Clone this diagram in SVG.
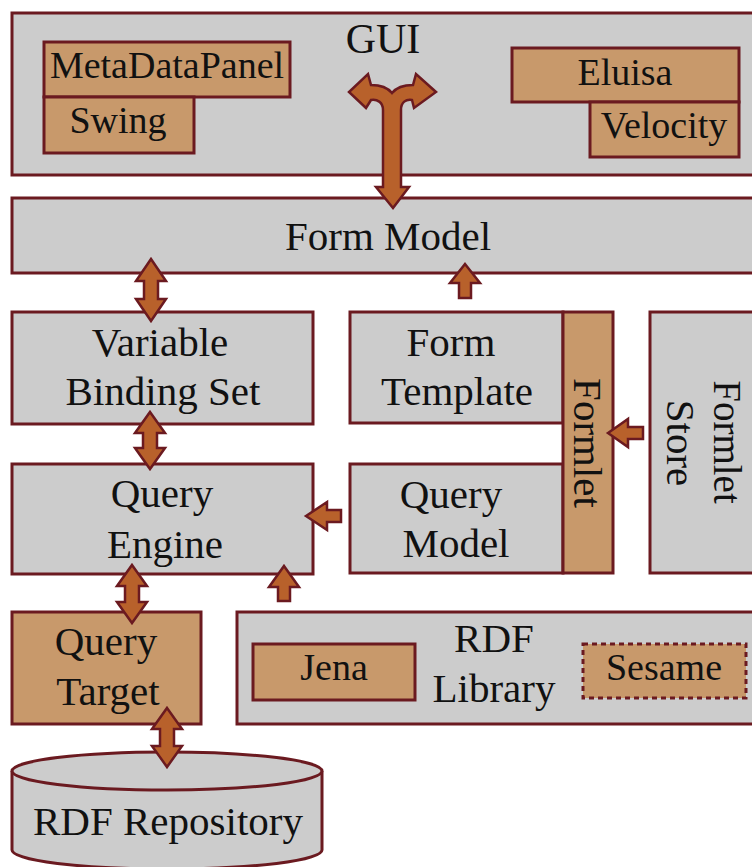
<svg xmlns="http://www.w3.org/2000/svg" width="752" height="867" viewBox="0 0 752 867">
<defs>
<style>
.box{fill:#cccccc;stroke:#6b1a20;stroke-width:3}
.tan{fill:#c8996b;stroke:#6b1a20;stroke-width:3}
.dash{fill:#c8996b;stroke:#6b1a20;stroke-width:3;stroke-dasharray:5,4}
.arr{fill:#b8612b;stroke:#6b1a20;stroke-width:2.5;stroke-linejoin:miter}
text{font-family:"Liberation Serif","Times New Roman",serif;font-size:41px;fill:#111;text-anchor:middle}
.sm{font-size:38px}
</style>
</defs>
<rect width="752" height="867" fill="#ffffff"/>
<g id="gui">
<rect class="box" x="12" y="13" width="760" height="162"/>
<text x="383" y="53" style="font-size:42px">GUI</text>
</g>
<g id="metadatapanel">
<rect class="tan" x="44" y="42" width="246" height="55"/>
<text class="sm" x="167" y="78">MetaDataPanel</text>
</g>
<g id="swing">
<rect class="tan" x="44" y="97" width="150" height="56"/>
<text class="sm" x="118" y="133">Swing</text>
</g>
<g id="eluisa">
<rect class="tan" x="512" y="48" width="227" height="54"/>
<text class="sm" x="625" y="85">Eluisa</text>
</g>
<g id="velocity">
<rect class="tan" x="590" y="102" width="149" height="55"/>
<text class="sm" x="664" y="138">Velocity</text>
</g>
<g id="form-model">
<rect class="box" x="12" y="198" width="760" height="75"/>
<text x="388" y="250">Form Model</text>
</g>
<g id="variable-binding-set">
<rect class="box" x="12" y="312" width="301" height="112"/>
<text x="160" y="356">Variable</text>
<text x="163" y="405">Binding Set</text>
</g>
<g id="form-template">
<rect class="box" x="350" y="312" width="213" height="111"/>
<text x="451" y="356">Form</text>
<text x="457" y="405">Template</text>
</g>
<g id="query-model">
<rect class="box" x="350" y="464" width="213" height="109"/>
<text x="451" y="508">Query</text>
<text x="456" y="557">Model</text>
</g>
<g id="formlet">
<rect class="tan" x="563" y="312" width="50" height="261"/>
<text transform="translate(574,443) rotate(90)">Formlet</text>
</g>
<g id="formlet-store">
<rect class="box" x="650" y="312" width="120" height="261"/>
<text transform="translate(714,442) rotate(90)" style="font-size:39px">Formlet</text>
<text transform="translate(667,443) rotate(90)">Store</text>
</g>
<g id="query-engine">
<rect class="box" x="12" y="464" width="301" height="110"/>
<text x="162" y="507">Query</text>
<text x="165" y="558">Engine</text>
</g>
<g id="query-target">
<rect class="tan" x="12" y="612" width="189" height="112"/>
<text x="106" y="655">Query</text>
<text x="108" y="705">Target</text>
</g>
<g id="rdf-library">
<rect class="box" x="237" y="612" width="535" height="112"/>
<text x="494" y="652">RDF</text>
<text x="494" y="702">Library</text>
</g>
<g id="jena">
<rect class="tan" x="253" y="644" width="162" height="56"/>
<text class="sm" x="334" y="680">Jena</text>
</g>
<g id="sesame">
<rect class="dash" x="583" y="644" width="163" height="54"/>
<text class="sm" x="664" y="680">Sesame</text>
</g>
<g id="rdf-repository">
<path class="box" d="M12,771 L12,850 A155,19 0 0 0 322,850 L322,771"/>
<ellipse class="box" cx="167" cy="771" rx="155" ry="19"/>
<text x="168" y="835">RDF Repository</text>
</g>
<g id="connectors">
<path class="arr" d="M393,208 L409,187 L401,187 L401,110 C401,102 406,99 412,100 L414,108 L436,92 L416,74 L413,85 C403,85 396,88 392,93 C388,88 381,85 371,85 L368,74 L349,92 L366,108 L371,100 C377,99 383,102 383,110 L383,187 L376,187 Z"/>
<path class="arr" d="M151,259 L166,281 L158,281 L158,299 L166,299 L151,321 L136,299 L144,299 L144,281 L136,281 Z"/>
<path class="arr" d="M150,412 L165,433 L157,433 L157,448 L165,448 L150,469 L135,448 L143,448 L143,433 L135,433 Z"/>
<path class="arr" d="M132,565 L147,586 L139,586 L139,602 L147,602 L132,623 L117,602 L125,602 L125,586 L117,586 Z"/>
<path class="arr" d="M167,708 L182,729 L174,729 L174,746 L182,746 L167,767 L152,746 L160,746 L160,729 L152,729 Z"/>
<path class="arr" d="M465,264 L480,283 L471,283 L471,298 L459,298 L459,283 L450,283 Z"/>
<path class="arr" d="M284,566 L299,587 L290,587 L290,601 L278,601 L278,587 L269,587 Z"/>
<path class="arr" d="M608,433 L628,419 L628,427 L643,427 L643,439 L628,439 L628,447 Z"/>
<path class="arr" d="M306,516 L327,502 L327,510 L341,510 L341,522 L327,522 L327,530 Z"/>
</g>
</svg>
